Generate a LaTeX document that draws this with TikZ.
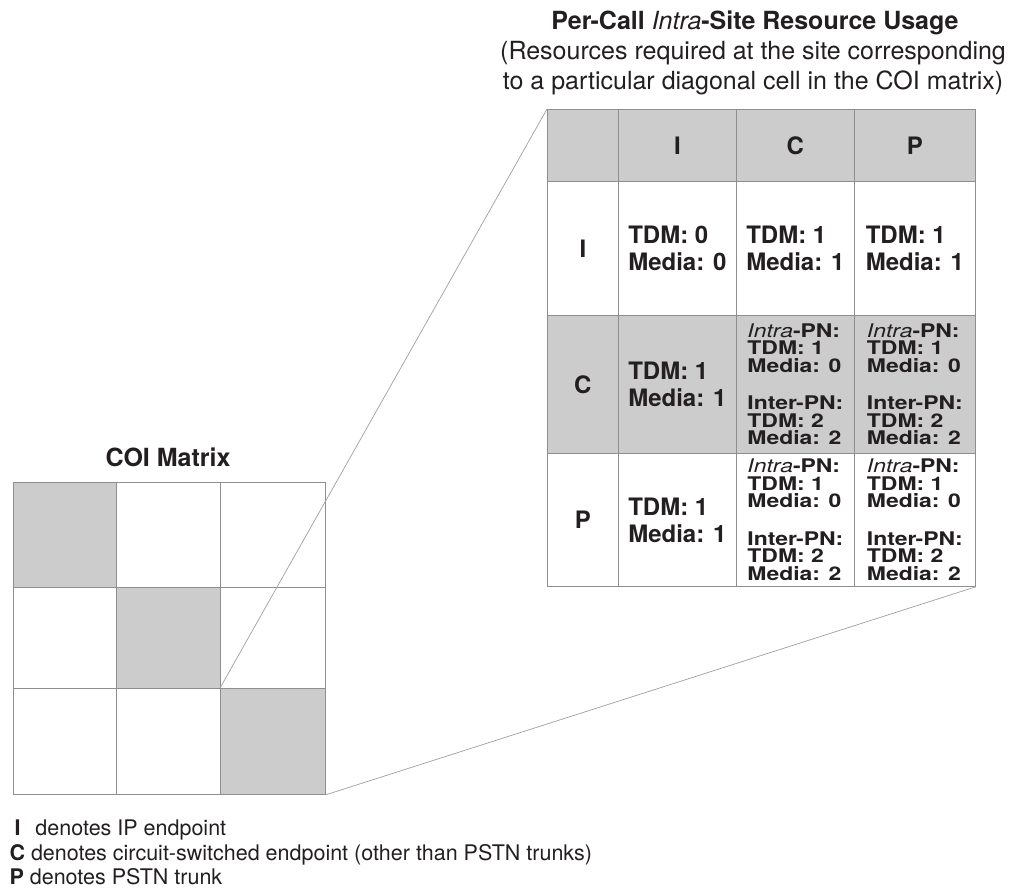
\documentclass[tikz,border=0pt]{standalone}
\usepackage{fontspec}
\setmainfont{TeX Gyre Heros}
\newfontfamily\smallcond[FakeStretch=1.22]{TeX Gyre Heros}
\definecolor{ink}{HTML}{231F20}
\definecolor{shade}{HTML}{CCCCCC}
\definecolor{rule}{HTML}{8E8E8E}
\definecolor{zoomgray}{HTML}{A0A0A0}
\begin{document}
\begin{tikzpicture}[x=1pt,y=-1pt,
  every node/.style={text=ink},
  tcell/.style 2 args={draw=rule, line width=0.8pt, anchor=north west, inner sep=0pt, minimum width=#1, minimum height=#2},
  big/.style={font=\fontsize{24}{27}\selectfont\bfseries, align=left},
  sm/.style={font=\smallcond\fontsize{18.8}{17.5}\selectfont\bfseries, align=left},
  zoomline/.style={draw=zoomgray, line width=0.7pt}]
\useasboundingbox (0,0) rectangle (1020,894);

% titles
\node[font=\fontsize{25}{30}\selectfont\bfseries] (title) at (755,23) {Per-Call {\mdseries\itshape Intra}-Site Resource Usage};
\node[font=\fontsize{25}{29.5}\selectfont, align=center] (sub) at (753,68) {(Resources required at the site corresponding\\to a particular diagonal cell in the COI matrix)};

% resource table: header
\node[tcell={71pt}{72pt}, fill=shade] (h0) at (547,109) {};
\node[tcell={118pt}{72pt}, fill=shade, big] (h1) at (618,109) {I};
\node[tcell={118pt}{72pt}, fill=shade, big] (h2) at (736,109) {C};
\node[tcell={121pt}{72pt}, fill=shade, big] (h3) at (854,109) {P};
% row I
\node[tcell={71pt}{134pt}, big] (i0) at (547,181) {I};
\node[tcell={118pt}{134pt}, big] (i1) at (618,181) {TDM: 0\\Media: 0};
\node[tcell={118pt}{134pt}, big] (i2) at (736,181) {TDM: 1\\Media: 1};
\node[tcell={121pt}{134pt}, big] (i3) at (854,181) {TDM: 1\\Media: 1};
% row C
\node[tcell={71pt}{138pt}, fill=shade, big] (c0) at (547,315) {C};
\node[tcell={118pt}{138pt}, fill=shade, big] (c1) at (618,315) {TDM: 1\\Media: 1};
\node[tcell={118pt}{138pt}, fill=shade, sm] (c2) at (736,315) {{\mdseries\itshape Intra}-PN:\\TDM: 1\\Media: 0\\[20pt]Inter-PN:\\TDM: 2\\Media: 2};
\node[tcell={121pt}{138pt}, fill=shade, sm] (c3) at (854,315) {{\mdseries\itshape Intra}-PN:\\TDM: 1\\Media: 0\\[20pt]Inter-PN:\\TDM: 2\\Media: 2};
% row P
\node[tcell={71pt}{133pt}, big] (p0) at (547,453) {P};
\node[tcell={118pt}{133pt}, big] (p1) at (618,453) {TDM: 1\\Media: 1};
\node[tcell={118pt}{133pt}, sm] (p2) at (736,453) {{\mdseries\itshape Intra}-PN:\\TDM: 1\\Media: 0\\[20pt]Inter-PN:\\TDM: 2\\Media: 2};
\node[tcell={121pt}{133pt}, sm] (p3) at (854,453) {{\mdseries\itshape Intra}-PN:\\TDM: 1\\Media: 0\\[20pt]Inter-PN:\\TDM: 2\\Media: 2};

% COI matrix
\node[font=\fontsize{25}{30}\selectfont\bfseries] (coititle) at (168,457) {COI Matrix};
\node[tcell={103pt}{105pt}, fill=shade] (m11) at (13,482) {};
\node[tcell={104pt}{105pt}] (m12) at (116,482) {};
\node[tcell={105pt}{105pt}] (m13) at (220,482) {};
\node[tcell={103pt}{101pt}] (m21) at (13,587) {};
\node[tcell={104pt}{101pt}, fill=shade] (m22) at (116,587) {};
\node[tcell={105pt}{101pt}] (m23) at (220,587) {};
\node[tcell={103pt}{106pt}] (m31) at (13,688) {};
\node[tcell={104pt}{106pt}] (m32) at (116,688) {};
\node[tcell={105pt}{106pt}, fill=shade] (m33) at (220,688) {};

% zoom connectors
\draw[zoomline] (m33.north west) -- (h0.north west);
\draw[zoomline] (m33.south east) -- (p3.south east);

% legend
\node[anchor=base west, font=\fontsize{21.5}{24}\selectfont] (l1) at (6,835.5) {\hspace{5pt}\textbf{I}\hspace{9pt} denotes IP endpoint};
\node[anchor=base west, font=\fontsize{21.5}{24}\selectfont] (l2) at (6,860.5) {\textbf{C} denotes circuit-switched endpoint (other than PSTN trunks)};
\node[anchor=base west, font=\fontsize{21.5}{24}\selectfont] (l3) at (6,884.5) {\textbf{P} denotes PSTN trunk};
\end{tikzpicture}
\end{document}
